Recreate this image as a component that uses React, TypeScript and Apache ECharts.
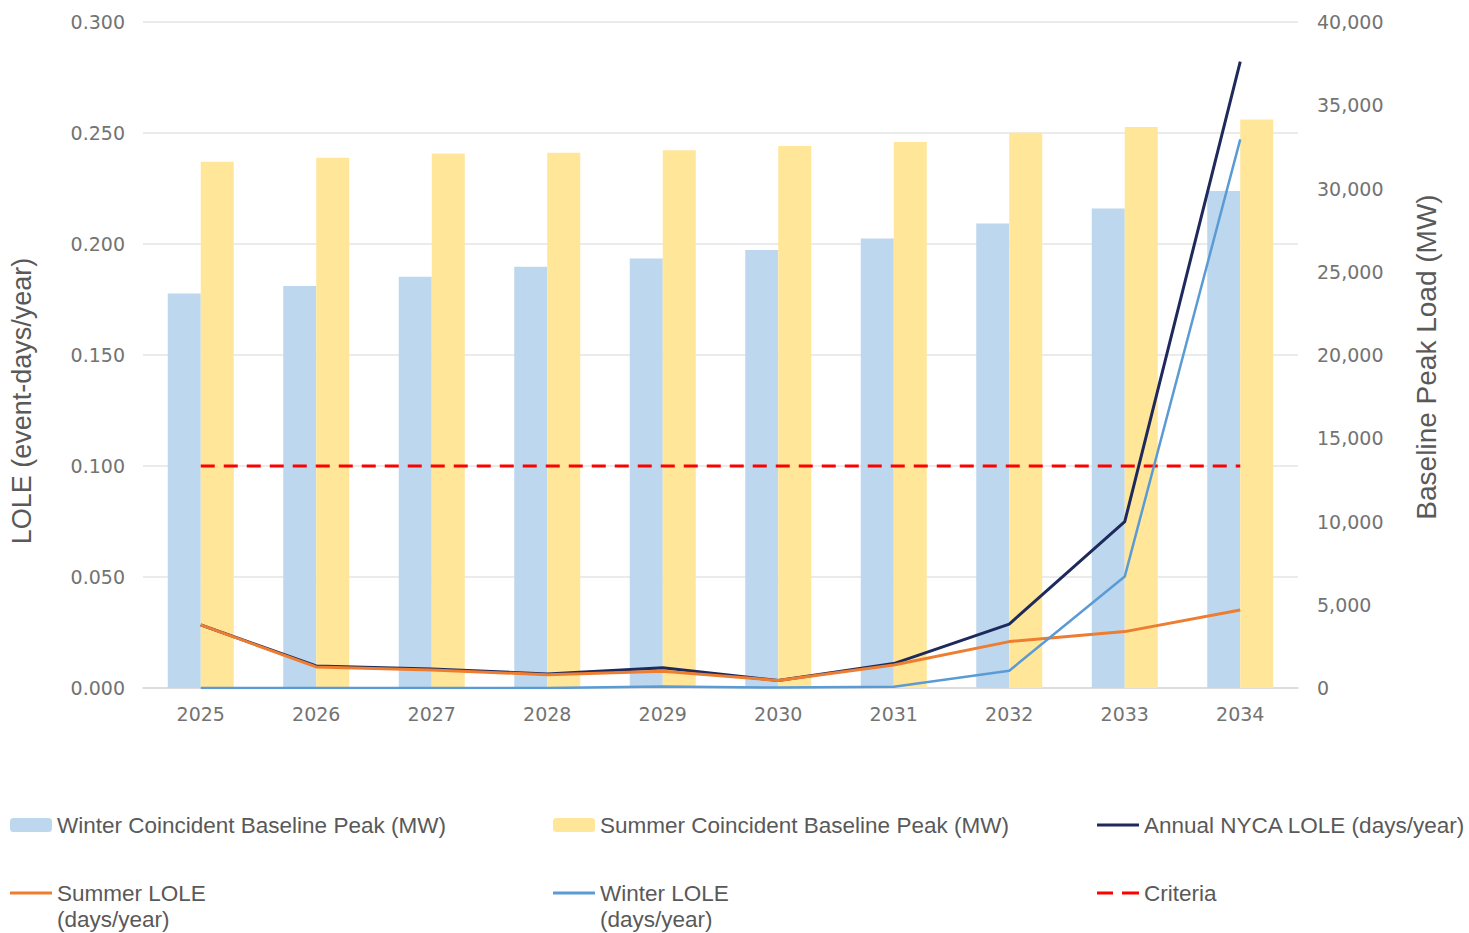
import React, { useEffect, useRef } from "react";
import * as echarts from "echarts";

const years = ["2025", "2026", "2027", "2028", "2029", "2030", "2031", "2032", "2033", "2034"];
const winterPeak = [23700, 24150, 24700, 25300, 25800, 26300, 27000, 27900, 28800, 29850];
const summerPeak = [31600, 31850, 32100, 32150, 32300, 32550, 32800, 33350, 33700, 34150];
const annualLole = [0.0284, 0.0099, 0.0086, 0.0063, 0.0091, 0.0034, 0.011, 0.0288, 0.0749, 0.2822];
const summerLole = [0.0284, 0.0095, 0.0081, 0.006, 0.0075, 0.0034, 0.0104, 0.0209, 0.0254, 0.0351];
const winterLole = [0.0, 0.0, 0.0, 0.0, 0.0007, 0.0002, 0.0006, 0.0078, 0.0502, 0.2471];
const criteria = [0.1, 0.1, 0.1, 0.1, 0.1, 0.1, 0.1, 0.1, 0.1, 0.1];

const names = {
  winterBar: "Winter Coincident Baseline Peak (MW)",
  summerBar: "Summer Coincident Baseline Peak (MW)",
  annual: "Annual NYCA LOLE (days/year)",
  summerL: "Summer LOLE\n(days/year)",
  winterL: "Winter LOLE\n(days/year)",
  crit: "Criteria",
};

const grey = "#595959";
const tickGrey = "#737373";
const tickFont = "DejaVu Sans";
const textFont = "Liberation Sans, Arial, sans-serif";

const lineIcon = "path://M0,0H42V3H0Z";
const dashIcon = "path://M0,0H16V3H0ZM25,0H42V3H25Z";

export default function App() {
  const ref = useRef<HTMLDivElement>(null);
  useEffect(() => {
    const chart = echarts.init(ref.current!, null, { renderer: "svg" });
    const legendBase = (name: string, left: number, top: number, icon?: string) => ({
      data: [icon ? { name, icon } : { name }],
      left,
      top,
      orient: "horizontal",
      itemWidth: 42,
      itemHeight: icon ? 3 : 14,
      itemGap: 0,
      selectedMode: false,
      formatter: (n: string) => (n.indexOf("\n") >= 0 ? "\n" + n : n),
      textStyle: { color: grey, fontSize: 22.5, fontFamily: textFont, lineHeight: 26, padding: [0, 0, 0, 0] },
    });
    chart.setOption({
      animation: false,
      backgroundColor: "#ffffff",
      grid: { left: 143, right: 171, top: 22, bottom: 245 },
      legend: [
        legendBase(names.winterBar, 5, 807),
        legendBase(names.summerBar, 548, 807),
        legendBase(names.annual, 1092, 807, lineIcon),
        legendBase(names.summerL, 5, 849, lineIcon),
        legendBase(names.winterL, 548, 849, lineIcon),
        legendBase(names.crit, 1092, 875, dashIcon),
      ],
      graphic: [
        {
          type: "text",
          x: 22,
          y: 401,
          rotation: Math.PI / 2,
          style: {
            text: "LOLE (event-days/year)",
            fill: grey,
            font: "27px " + textFont,
            align: "center",
            verticalAlign: "middle",
          },
        },
        {
          type: "text",
          x: 1426,
          y: 357,
          rotation: Math.PI / 2,
          style: {
            text: "Baseline Peak Load (MW)",
            fill: grey,
            font: "28px " + textFont,
            align: "center",
            verticalAlign: "middle",
          },
        },
      ],
      xAxis: {
        type: "category",
        data: years,
        axisLine: { lineStyle: { color: "#D9D9D9", width: 1.5 } },
        axisTick: { show: false },
        axisLabel: { color: tickGrey, fontSize: 19, fontFamily: tickFont, margin: 16 },
      },
      yAxis: [
        {
          type: "value",
          min: 0,
          max: 0.3,
          interval: 0.05,
          axisLine: { show: false },
          axisTick: { show: false },
          splitLine: { lineStyle: { color: "#E4E4E4", width: 1.5 } },
          axisLabel: {
            color: tickGrey,
            fontSize: 19,
            fontFamily: tickFont,
            margin: 18,
            formatter: (v: number) => v.toFixed(3),
          },
        },
        {
          type: "value",
          min: 0,
          max: 40000,
          interval: 5000,
          axisLine: { show: false },
          axisTick: { show: false },
          splitLine: { show: false },
          axisLabel: {
            color: tickGrey,
            fontSize: 19,
            fontFamily: tickFont,
            margin: 19,
            formatter: (v: number) => v.toLocaleString("en-US"),
          },
        },
      ],
      series: [
        {
          name: names.winterBar,
          type: "bar",
          yAxisIndex: 1,
          data: winterPeak,
          barWidth: 33,
          barGap: "0%",
          itemStyle: { color: "#BDD7EE" },
        },
        {
          name: names.summerBar,
          type: "bar",
          yAxisIndex: 1,
          data: summerPeak,
          barWidth: 33,
          barGap: "0%",
          itemStyle: { color: "#FFE699" },
        },
        {
          name: names.crit,
          type: "line",
          yAxisIndex: 0,
          data: criteria,
          symbol: "none",
          lineStyle: { color: "#FF0000", width: 3, type: [14, 9] },
          itemStyle: { color: "#FF0000" },
          z: 3,
        },
        {
          name: names.summerL,
          type: "line",
          yAxisIndex: 0,
          data: summerLole,
          symbol: "none",
          lineStyle: { color: "#ED7D31", width: 3 },
          itemStyle: { color: "#ED7D31" },
          z: 4,
        },
        {
          name: names.winterL,
          type: "line",
          yAxisIndex: 0,
          data: winterLole,
          symbol: "none",
          lineStyle: { color: "#5B9BD5", width: 2.5 },
          itemStyle: { color: "#5B9BD5" },
          z: 5,
        },
        {
          name: names.annual,
          type: "line",
          yAxisIndex: 0,
          data: annualLole,
          symbol: "none",
          lineStyle: { color: "#1F2A5C", width: 3 },
          itemStyle: { color: "#1F2A5C" },
          z: 3,
        },
      ],
    });
    return () => chart.dispose();
  }, []);
  return <div ref={ref} style={{ width: 1469, height: 933, position: "absolute", left: 0, top: 0 }} />;
}
